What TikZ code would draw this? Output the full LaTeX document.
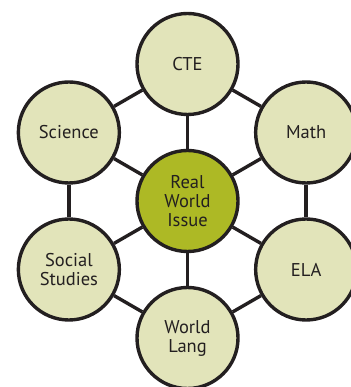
\documentclass[tikz,border=0pt]{standalone}
\usepackage{fontspec}
\setmainfont{PT Sans}
\usetikzlibrary{positioning}
\definecolor{subj}{RGB}{226,228,186}
\definecolor{issue}{RGB}{173,185,37}
\definecolor{ink}{RGB}{35,31,32}
\tikzset{disc/.style={circle, draw=ink, line width=3.4pt, fill=subj,
           minimum size=101pt, inner sep=0pt, align=center, text=ink,
           font=\fontsize{18.5}{19}\selectfont},
         link/.style={draw=ink, line width=3.4pt}}

\begin{document}
\begin{tikzpicture}[x=1pt,y=1pt]
\useasboundingbox (0,0) rectangle (350,387);
\node[disc, fill=issue] (issue) at (187.5,186) {Real\\World\\Issue};
\foreach \n/\a/\t in {cte/90/CTE, math/30/Math, ela/-30/ELA,
                      lang/-90/World\\Lang, social/-150/Social\\Studies, sci/150/Science}
  \node[disc] (\n) at ([shift={(\a:137)}]issue.center) {\t};
% spokes and ring
\foreach \n in {cte,math,ela,lang,social,sci}
  \draw[link] (issue) -- (\n);
\foreach \a/\b in {cte/math,math/ela,ela/lang,lang/social,social/sci,sci/cte}
  \draw[link] (\a) -- (\b);
\end{tikzpicture}
\end{document}
